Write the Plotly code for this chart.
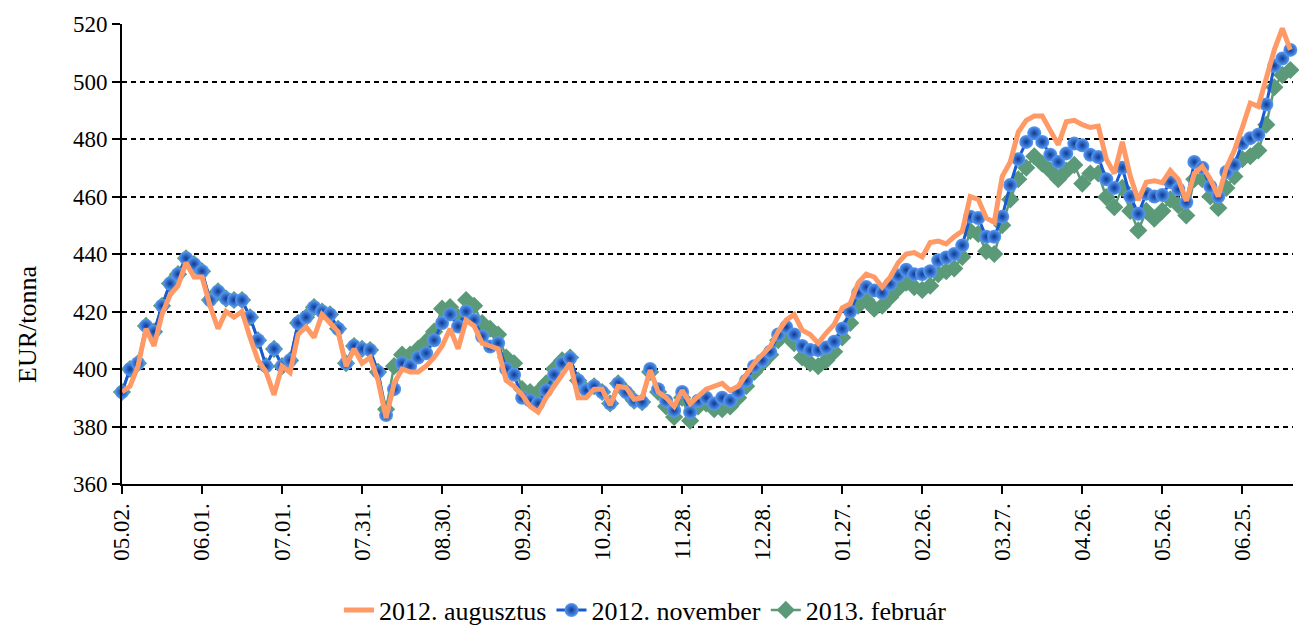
import pandas as pd
import plotly.graph_objects as go

# Sampled every 3 calendar days starting 2012-05-02
start_date = "2012-05-02"
step_days = 3

aug_2012 = [392, 394, 401, 414, 408, 419, 425.7, 429, 437, 432,
            432, 422, 414, 420, 418, 420, 411, 403, 399, 391,
            401, 398.8, 412, 414.6, 411, 419, 416, 413, 401, 407,
            402, 404, 396, 383, 395, 400, 399, 399, 401, 404,
            408, 414, 407, 417, 415, 409, 408, 407, 396, 394,
            391, 387, 385, 390, 394, 398, 402, 390, 390, 393,
            393, 387.4, 394, 393.5, 389.5, 390, 399.6, 392, 390, 387,
            392.6, 388, 390.3, 393, 394, 395, 392.5, 394, 398, 402,
            405, 407.8, 413, 417, 419, 413.5, 412, 409, 412.5, 415.5,
            421.3, 422.7, 430, 433, 432, 428.5, 432, 437, 440, 440.5,
            439, 444, 444.5, 443.5, 446, 448, 460, 459, 452.5, 451,
            467, 472, 482.4, 486.5, 488, 488, 483, 478, 486, 486.5,
            485, 484, 484.5, 473, 468, 479, 467, 458.7, 465, 465.5,
            464.8, 469, 466, 458.5, 468, 470.5, 466, 460, 470, 476,
            484, 492.5, 491.3, 501, 511, 518.5, 511]

nov_2012 = [392, 400, 402, 415, 413, 422, 429.7, 433, 438.5, 436.5,
            434, 424, 427, 424.5, 424, 424, 418, 410, 401, 407,
            401, 403, 416, 418, 421.5, 420, 419, 414, 402, 408,
            407, 406.6, 399, 384, 393, 402, 401, 404, 405.5, 410,
            416, 419, 414.8, 420, 417, 411.3, 407.8, 409, 400, 398,
            390, 389, 388, 392.5, 398, 402, 403.7, 396, 392.6, 394,
            392, 388, 395, 392, 389, 388.5, 400, 393, 389, 385.6,
            392, 385, 389, 390, 388, 390, 389, 392, 396, 401,
            403, 406, 412, 414.6, 412, 408, 406.6, 406.6, 407.5, 409.5,
            414, 420, 426.5, 428.5, 427.3, 426.5, 429.6, 432.5, 434.5, 433,
            433, 434, 437.8, 438.8, 440, 443, 453, 452.5, 446, 446,
            453, 464, 473, 479, 482, 479, 474.5, 472, 475, 478.4,
            477.8, 474.5, 473.7, 466, 463, 470, 460, 454, 461, 460,
            460.5, 465, 462.5, 458, 472, 470, 463.5, 460, 468.5, 471,
            478.5, 480.3, 481.5, 492, 505.5, 508, 511]

feb_2013 = [392, 400, 402, 415, 413, 422, 429.7, 433, 438.5, 436.5,
            434, 424, 427, 424.5, 424, 424, 418, 410, 401, 407,
            401, 403, 416, 418, 421.5, 420, 419, 414, 402, 408,
            407, 406.6, 399, 386, 401, 405, 405, 407, 409.5, 413,
            421, 421.5, 418, 424, 422, 416, 414, 412, 404, 402,
            393, 392, 392, 395, 400, 403, 404, 396, 392.6, 394,
            392, 388, 395, 392, 389, 388.5, 399, 392, 387, 383.3,
            390, 382, 387, 388, 386, 386, 387, 390, 394, 399,
            402, 405, 410, 412, 409, 404, 402, 401, 403, 406,
            411, 416, 422, 424, 421, 422, 425, 428, 430, 428.5,
            427.5, 429, 433, 434, 435, 439, 448, 447, 441, 440,
            450, 459, 466, 470, 474, 471.4, 469, 466, 469, 471,
            464.5, 468, 468, 459.8, 456.3, 463, 455, 448.2, 455, 452.3,
            455, 459, 457, 453.4, 466, 466, 460, 456, 463, 467,
            473, 474, 476, 485, 498, 502.3, 504]

tick_labels = ["05.02.", "06.01.", "07.01.", "07.31.", "08.30.", "09.29.", "10.29.",
               "11.28.", "12.28.", "01.27.", "02.26.", "03.27.", "04.26.", "05.26.", "06.25."]

series_names = ["2012. augusztus", "2012. november", "2013. február"]
y_title = "EUR/tonna"

dates = pd.date_range(start_date, periods=len(nov_2012), freq=f"{step_days}D")
tick_vals = pd.date_range(start_date, periods=len(tick_labels), freq="30D")
x_end = pd.Timestamp(start_date) + pd.Timedelta(days=439)

FONT = "Liberation Serif"

fig = go.Figure()

fig.add_trace(go.Scatter(
    x=dates, y=feb_2013, name=series_names[2], mode="lines+markers",
    line=dict(color="#5b9a78", width=2.5),
    marker=dict(symbol="diamond", size=14, color="#5b9a78", line=dict(width=0)),
    cliponaxis=False, legendrank=3,
))
fig.add_trace(go.Scatter(
    x=dates, y=nov_2012, name=series_names[1], mode="lines+markers",
    line=dict(color="#1a5ad0", width=3),
    marker=dict(symbol="circle", size=14, color="#5a9cf5",
                gradient=dict(type="radial", color="#0b3a96"),
                line=dict(width=0)),
    cliponaxis=False, legendrank=2,
))
fig.add_trace(go.Scatter(
    x=dates, y=aug_2012, name=series_names[0], mode="lines",
    line=dict(color="#ff9966", width=5),
    cliponaxis=False, legendrank=1,
))

fig.add_annotation(
    text=y_title, textangle=-90, xref="paper", yref="paper",
    x=-0.0803, y=0.348, xanchor="center", yanchor="middle", showarrow=False,
    font=dict(family=FONT, size=26, color="black"),
)

fig.update_layout(
    width=1299, height=628,
    margin=dict(l=122, r=6, t=24, b=144, autoexpand=False),
    paper_bgcolor="white", plot_bgcolor="white",
    font=dict(family=FONT, size=23, color="black"),
    showlegend=True,
    legend=dict(orientation="h", x=0.447, xanchor="center", y=-0.274, yanchor="middle",
                font=dict(family=FONT, size=26, color="black"),
                itemwidth=30, tracegroupgap=0),
)

fig.update_xaxes(
    type="date", range=[pd.Timestamp(start_date), x_end], automargin=False,
    tickvals=tick_vals, ticktext=tick_labels, tickangle=-90,
    ticks="outside", ticklen=8, tickwidth=2, tickcolor="black",
    showline=True, linecolor="black", linewidth=2,
    showgrid=False, zeroline=False,
    tickfont=dict(family=FONT, size=23, color="black"),
)
fig.update_yaxes(
    range=[360, 520], dtick=20, tick0=360, automargin=False,
    ticks="outside", ticklen=8, tickwidth=2, tickcolor="black",
    showline=True, linecolor="black", linewidth=2,
    showgrid=True, gridcolor="black", gridwidth=2, griddash="5px,4px",
    zeroline=False,
    tickfont=dict(family=FONT, size=23, color="black"),
)

fig.write_html("out.html", config={"displayModeBar": False},
               post_script="document.body.style.margin='0';")
